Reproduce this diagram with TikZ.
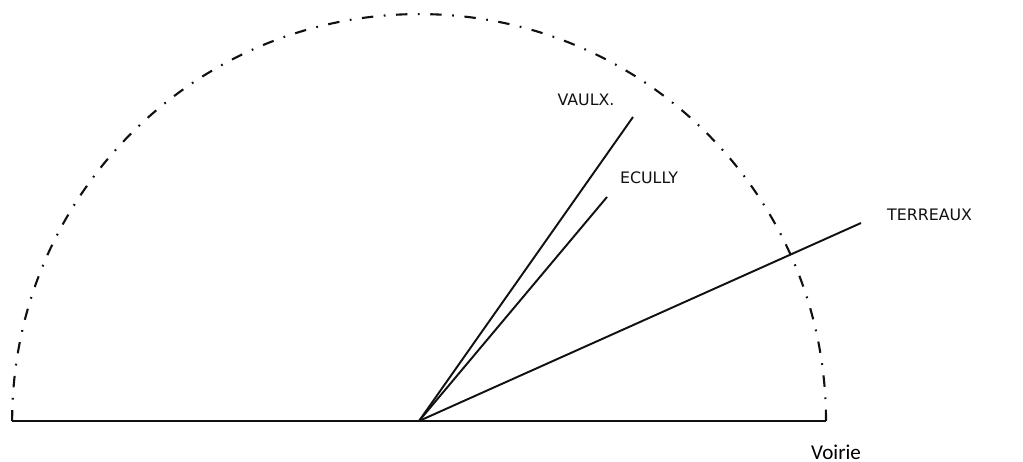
\documentclass[tikz,border=0pt]{standalone}
\usepackage{fontspec}
\setsansfont{DejaVu Sans}
\newfontfamily\voiriefont{Carlito}
\usetikzlibrary{positioning,calc}
\definecolor{ink}{HTML}{111111}

\begin{document}
\begin{tikzpicture}[
  x=0.02cm, y=-0.02cm,
  axe/.style={draw=ink, line width=1.1pt},
  bord/.style={draw=ink, line width=1.2pt, dash pattern=on 6.5pt off 6pt on 1pt off 6pt},
  lbl/.style={text=ink, font=\sffamily\small, inner sep=1pt},
]
\useasboundingbox (0,0) rectangle (1023,462);
% origin on the road and ends of the three directions
\coordinate (o) at (419,421);
\coordinate (gauche) at (12,421);
\coordinate (droite) at (826,421);
\coordinate (vx) at (633,117);
\coordinate (ec) at (607,197);
\coordinate (te) at (861,223);
% half circle and road
\draw[bord] (droite) arc[start angle=0, end angle=180, radius=8.14cm];
\draw[axe] (gauche) -- (o) -- (droite);
% directions
\draw[axe] (o) -- (vx);
\draw[axe] (o) -- (ec);
\draw[axe] (o) -- (te);
% labels
\node[lbl] (vaulx) at (586,100) {VAULX.};
\node[lbl, anchor=west] (ecully) at (618,178) {ECULLY};
\node[lbl, anchor=west] (terreaux) at (885,215) {TERREAUX};
\node[text=black, font=\voiriefont\large, anchor=west] (voirie) at (805,452) {Voirie};
\end{tikzpicture}
\end{document}
